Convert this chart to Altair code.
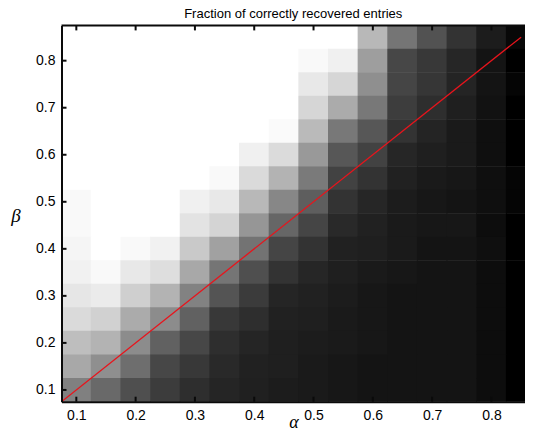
import altair as alt
import pandas as pd

# alpha (x) cell centres and beta (y) cell centres
alphas = [0.10, 0.15, 0.20, 0.25, 0.30, 0.35, 0.40, 0.45,
          0.50, 0.55, 0.60, 0.65, 0.70, 0.75, 0.80, 0.85]
betas = [0.85, 0.80, 0.75, 0.70, 0.65, 0.60, 0.55, 0.50,
         0.45, 0.40, 0.35, 0.30, 0.25, 0.20, 0.15, 0.10]

# fraction of correctly recovered entries, one list per beta row (top to bottom)
row_085 = [1, 1, 1, 1, 1, 1, 1, 1, 1, 1, 0.72, 0.46, 0.32, 0.20, 0.11, 0.03]
row_080 = [1, 1, 1, 1, 1, 1, 1, 1, 0.975, 0.94, 0.62, 0.28, 0.22, 0.15, 0.08, 0.0]
row_075 = [1, 1, 1, 1, 1, 1, 1, 1, 0.91, 0.84, 0.56, 0.27, 0.21, 0.14, 0.08, 0.02]
row_070 = [1, 1, 1, 1, 1, 1, 1, 1, 0.84, 0.67, 0.47, 0.24, 0.18, 0.12, 0.07, 0.0]
row_065 = [1, 1, 1, 1, 1, 1, 1, 0.98, 0.73, 0.47, 0.34, 0.20, 0.14, 0.10, 0.06, 0.0]
row_060 = [1, 1, 1, 1, 1, 1, 0.94, 0.86, 0.60, 0.34, 0.26, 0.15, 0.12, 0.10, 0.06, 0.0]
row_055 = [1, 1, 1, 1, 1, 0.975, 0.855, 0.70, 0.48, 0.26, 0.20, 0.13, 0.10, 0.09, 0.06, 0.02]
row_050 = [0.975, 1, 1, 1, 0.94, 0.91, 0.72, 0.53, 0.37, 0.20, 0.15, 0.11, 0.09, 0.08, 0.06, 0.02]
row_045 = [0.975, 1, 1, 1, 0.89, 0.83, 0.59, 0.40, 0.27, 0.16, 0.13, 0.10, 0.09, 0.09, 0.05, 0.0]
row_040 = [0.96, 1, 0.975, 0.945, 0.79, 0.63, 0.45, 0.27, 0.20, 0.13, 0.12, 0.10, 0.08, 0.08, 0.06, 0.0]
row_035 = [0.945, 0.975, 0.91, 0.87, 0.66, 0.46, 0.31, 0.20, 0.15, 0.12, 0.10, 0.09, 0.08, 0.08, 0.05, 0.0]
row_030 = [0.90, 0.92, 0.81, 0.70, 0.51, 0.33, 0.23, 0.145, 0.13, 0.11, 0.09, 0.08, 0.08, 0.08, 0.05, 0.0]
row_025 = [0.855, 0.82, 0.67, 0.55, 0.38, 0.22, 0.18, 0.13, 0.12, 0.10, 0.09, 0.08, 0.08, 0.08, 0.05, 0.0]
row_020 = [0.745, 0.70, 0.55, 0.38, 0.28, 0.18, 0.145, 0.12, 0.11, 0.10, 0.09, 0.08, 0.08, 0.08, 0.05, 0.0]
row_015 = [0.66, 0.56, 0.43, 0.28, 0.22, 0.16, 0.13, 0.12, 0.10, 0.09, 0.08, 0.08, 0.08, 0.08, 0.05, 0.0]
row_010 = [0.50, 0.41, 0.31, 0.235, 0.18, 0.145, 0.125, 0.11, 0.10, 0.09, 0.08, 0.08, 0.08, 0.08, 0.05, 0.0]

rows = [row_085, row_080, row_075, row_070, row_065, row_060, row_055, row_050,
        row_045, row_040, row_035, row_030, row_025, row_020, row_015, row_010]

cell_half = 0.0256
tick_vals = [0.1, 0.2, 0.3, 0.4, 0.5, 0.6, 0.7, 0.8]

# red reference line alpha = beta
line_alpha = [0.075, 0.85]
line_beta = [0.075, 0.85]

records = []
for b, vals in zip(betas, rows):
    for a, v in zip(alphas, vals):
        records.append({"alpha": a, "beta": b, "frac": v})
df = pd.DataFrame(records)
line_df = pd.DataFrame({"alpha": line_alpha, "beta": line_beta})
tick_df = pd.DataFrame({"t": tick_vals})

W = 463.5
H = 376.3

xscale = alt.Scale(domain=[0.075, 0.8566], nice=False, zero=False)
yscale = alt.Scale(domain=[0.075, 0.875], nice=False, zero=False)
gray = alt.Scale(domain=[0, 1], range=["#000000", "#ffffff"], interpolate="rgb")

label_font = "Liberation Sans"
ink = "#0a0a0a"

x_axis_bottom = alt.Axis(
    orient="bottom", values=tick_vals, format=".1f", grid=False,
    domain=True, domainColor=ink, domainWidth=2, domainOpacity=1, zindex=1,
    ticks=False, labelPadding=6.5,
    labelFont=label_font, labelFontSize=14, labelColor="#000000",
    title="α", titleFont="Liberation Serif", titleFontStyle="italic",
    titleFontSize=18, titleFontWeight="normal", titleColor="#000000",
    titleBaseline="alphabetic", titleY=26, titleX=232,
)
y_axis_left = alt.Axis(
    orient="left", values=tick_vals, format=".1f", grid=False,
    domain=True, domainColor=ink, domainWidth=2, domainOpacity=1, zindex=1,
    ticks=False, labelPadding=6.5,
    labelFont=label_font, labelFontSize=14, labelColor="#000000",
    title="β", titleFont="Liberation Serif", titleFontStyle="italic",
    titleFontSize=19, titleFontWeight="normal", titleColor="#000000",
    titleAngle=0, titleAlign="center", titleBaseline="middle",
    titleX=-46, titleY=190,
)

cells = alt.Chart(df).transform_calculate(
    x0=f"datum.alpha - {cell_half}", x1=f"datum.alpha + {cell_half}",
    y0=f"datum.beta - {cell_half}", y1=f"datum.beta + {cell_half}",
).mark_rect(clip=True, strokeWidth=0).encode(
    x=alt.X("x0:Q", scale=xscale, axis=x_axis_bottom),
    x2="x1:Q",
    y=alt.Y("y0:Q", scale=yscale, axis=y_axis_left),
    y2="y1:Q",
    color=alt.Color("frac:Q", scale=gray, legend=None),
)

diag = alt.Chart(line_df).mark_line(color="#e8141c", strokeWidth=1.3, clip=True).encode(
    x=alt.X("alpha:Q", scale=xscale),
    y=alt.Y("beta:Q", scale=yscale),
)

# inward tick marks on the bottom, top and left edges
tick_style = dict(color=ink, thickness=2, size=5, opacity=1, filled=True)
ticks_bottom = alt.Chart(tick_df).mark_tick(orient="vertical", **tick_style).encode(
    x=alt.X("t:Q", scale=xscale), y=alt.value(H - 2.5))
ticks_top = alt.Chart(tick_df).mark_tick(orient="vertical", **tick_style).encode(
    x=alt.X("t:Q", scale=xscale), y=alt.value(2.5))
ticks_left = alt.Chart(tick_df).mark_tick(orient="horizontal", **tick_style).encode(
    y=alt.Y("t:Q", scale=yscale), x=alt.value(2.5))

# top edge of the frame
frame_df = pd.DataFrame({"k": [0]})
frame_top = alt.Chart(frame_df).mark_rule(color=ink, strokeWidth=2, opacity=1).encode(
    y=alt.value(0), x=alt.value(0), x2=alt.value(W))

chart = alt.layer(
    cells, diag, ticks_bottom, ticks_top, ticks_left, frame_top,
).properties(
    width=W,
    height=H,
    padding={"left": 53.5, "top": 17.4, "right": 0, "bottom": 29.3},
    autosize=alt.AutoSizeParams(type="none"),
    title=alt.Title(
        "Fraction of correctly recovered entries",
        font=label_font, fontSize=13, fontWeight="normal", color="#000000",
        anchor="middle", offset=3,
    ),
).configure_view(stroke=None).configure(background="#ffffff")

chart.save("out.html", embed_options={"renderer": "svg", "actions": False})
